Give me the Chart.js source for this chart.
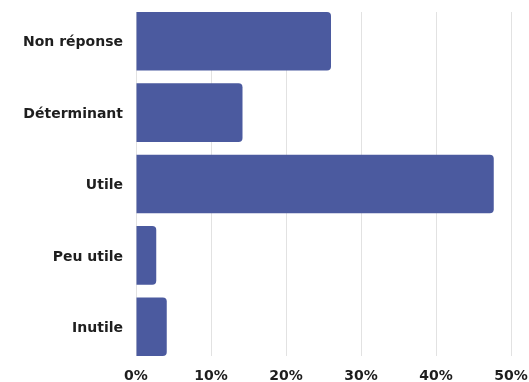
<!DOCTYPE html>
<html>
<head>
<meta charset="utf-8">
<script src="https://cdn.jsdelivr.net/npm/chart.js@4"></script>
<style>
  html, body { margin: 0; padding: 0; background: #fff; }
  #wrap { width: 529px; height: 382px; }
</style>
</head>
<body>
<div id="wrap"><canvas id="c"></canvas></div>
<script>
// Réponses à la question, en pourcentage
const categories = ["Non réponse", "Déterminant", "Utile", "Peu utile", "Inutile"];
const shares = [26.0, 14.2, 47.7, 2.7, 4.1];
const axisTicks = [0, 10, 20, 30, 40, 50];

const FONT = "'DejaVu Sans', 'Open Sans', sans-serif";
const BAR = "#4b5a9f";

// Bars sit on a numeric row axis so they can run flush to the top and bottom of the plot
const points = shares.map((v, i) => ({ x: v, y: i }));

new Chart(document.getElementById("c"), {
  type: "bar",
  data: {
    datasets: [{
      data: points,
      backgroundColor: BAR,
      borderRadius: 4,
      borderSkipped: "start",
      categoryPercentage: 1,
      barPercentage: 0.82
    }]
  },
  options: {
    indexAxis: "y",
    responsive: true,
    maintainAspectRatio: false,
    animation: false,
    layout: { padding: { top: 12, right: 18, left: 0, bottom: 0 } },
    plugins: { legend: { display: false }, tooltip: { enabled: false } },
    scales: {
      x: {
        type: "linear",
        min: axisTicks[0],
        max: axisTicks[axisTicks.length - 1],
        afterBuildTicks: s => { s.ticks = axisTicks.map(v => ({ value: v })); },
        border: { display: false },
        grid: { color: "#e2e2e2", lineWidth: 1, drawTicks: false },
        ticks: {
          padding: 12,
          color: "#1e1e1e",
          font: { family: FONT, size: 14, weight: "600" },
          callback: v => v + "%"
        },
        afterFit: s => { s.height = 26; s.paddingLeft = 0; s.paddingRight = 0; }
      },
      y: {
        type: "linear",
        reverse: true,
        offset: false,
        min: -0.41,
        max: categories.length - 1 + 0.41,
        afterBuildTicks: s => { s.ticks = categories.map((_, i) => ({ value: i })); },
        border: { display: false },
        grid: { display: false, drawTicks: false, offset: false },
        ticks: {
          padding: 13,
          labelOffset: 1.5,
          color: "#1e1e1e",
          font: { family: FONT, size: 14, weight: "600" },
          callback: v => categories[v]
        },
        afterFit: s => { s.width = 136; s.paddingTop = 0; s.paddingBottom = 0; }
      }
    }
  }
});
</script>
</body>
</html>
